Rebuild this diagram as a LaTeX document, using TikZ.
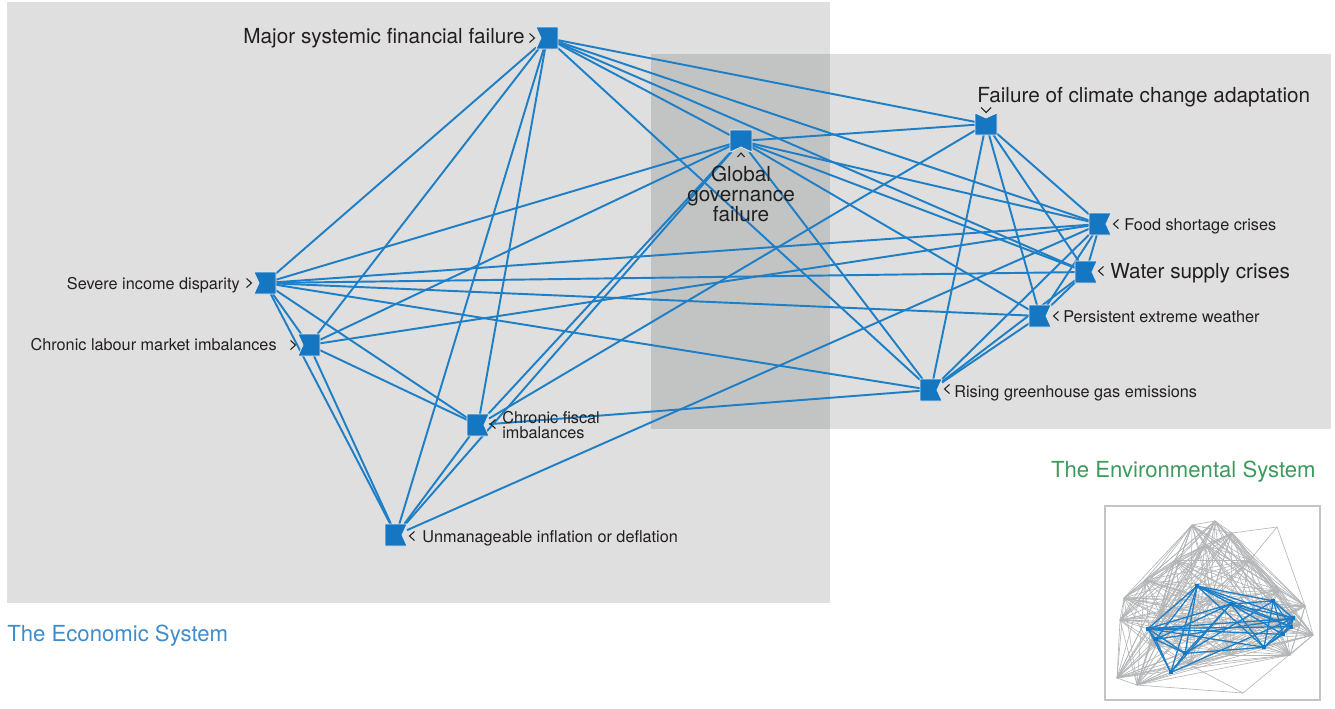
\documentclass[tikz,border=0pt]{standalone}
\usepackage{fontspec}
\setmainfont{TeX Gyre Heros}
\usetikzlibrary{calc}
\definecolor{nodeblue}{HTML}{1577C1}
\definecolor{edgeblue}{HTML}{1E7FC6}
\definecolor{bggray}{HTML}{DFDFDF}
\definecolor{ovgray}{HTML}{C2C3C3}
\definecolor{txt}{HTML}{231F20}
\definecolor{ecoblue}{HTML}{3F8CCB}
\definecolor{envgreen}{HTML}{3C9A5C}
\definecolor{insetgray}{HTML}{B3B5B6}
\newcommand\bigfnt{\fontsize{11.8}{11.6}\selectfont\lineskiplimit-10pt\relax}
\newcommand\smallfnt{\fontsize{9.25}{8.8}\selectfont\lineskiplimit-10pt\relax}
\newcommand\sysfnt{\fontsize{12.6}{14}\selectfont}
\newcommand\mapedges{msf/sid, msf/clm, msf/cfi, msf/uid, msf/ggf, msf/fcca, msf/fsc, msf/wsc, msf/rgg,
 sid/clm, sid/cfi, sid/uid, sid/ggf, sid/fsc, sid/wsc, sid/pew, sid/rgg,
 clm/cfi, clm/uid, clm/ggf, clm/fsc,
 cfi/uid, cfi/ggf, cfi/rgg, cfi/fcca,
 uid/ggf, uid/fsc,
 ggf/fcca, ggf/fsc, ggf/wsc, ggf/pew, ggf/rgg,
 fcca/fsc, fcca/wsc, fcca/pew, fcca/rgg,
 fsc/wsc, fsc/pew, fsc/rgg,
 wsc/pew, wsc/rgg,
 pew/rgg}
\newcommand\nodelist{msf/547/38, ggf/741/141, fcca/986/124, fsc/1100/224, wsc/1086/272, pew/1040/316, rgg/931/390, sid/265/283, clm/309/345, cfi/478/425, uid/396/535}
\newcommand\nR[1]{\path[sqfill] (#1.north west) -- (#1.north east) -- ($(#1.east)+(-5,0)$) -- (#1.south east) -- (#1.south west) -- cycle;}
\newcommand\nL[1]{\path[sqfill] (#1.north west) -- (#1.north east) -- (#1.south east) -- (#1.south west) -- ($(#1.west)+(5,0)$) -- cycle;}
\newcommand\nT[1]{\path[sqfill] (#1.north west) -- ($(#1.north)+(0,5)$) -- (#1.north east) -- (#1.south east) -- (#1.south west) -- cycle;}
\newcommand\nB[1]{\path[sqfill] (#1.north west) -- (#1.north east) -- (#1.south east) -- ($(#1.south)+(0,-5)$) -- (#1.south west) -- cycle;}
\newcommand\chR[2]{\draw[chev,shift={(#1,#2)}] (-2.5,-4.5) -- (2.5,0) -- (-2.5,4.5);}
\newcommand\chL[2]{\draw[chev,shift={(#1,#2)}] (2.5,-4.5) -- (-2.5,0) -- (2.5,4.5);}
\newcommand\chU[2]{\draw[chev,shift={(#1,#2)}] (-3.5,2) -- (0,-2) -- (3.5,2);}
\newcommand\chD[2]{\draw[chev,shift={(#1,#2)}] (-5,-2.5) -- (0,2.5) -- (5,-2.5);}
\begin{document}
\begin{tikzpicture}[x=0.02cm,y=-0.02cm,
  sq/.style={rectangle, minimum size=0.44cm, inner sep=0pt, outer sep=0pt},
  sqfill/.style={fill=nodeblue, draw=white!82!gray, line width=0.4pt},
  link/.style={draw=edgeblue, line width=1.1pt},
  ilink/.style={draw=edgeblue, line width=0.75pt},
  glink/.style={draw=insetgray, line width=0.35pt},
  chev/.style={draw=txt, line width=0.6pt},
  lbig/.style={font=\bigfnt, text=txt, inner sep=0pt},
  lsmall/.style={font=\smallfnt, text=txt, inner sep=0pt},
  syslabel/.style={font=\sysfnt, inner sep=0pt}]
\useasboundingbox (0,0) rectangle (1335,708);
% backgrounds
\fill[bggray] (7,2) rectangle (830,603);
\fill[bggray] (651,54) rectangle (1331,429);
\fill[ovgray] (651,54) rectangle (830,429);
% system labels
\node[syslabel, text=ecoblue, anchor=base west] (ecolabel) at (7,641) {The Economic System};
\node[syslabel, text=envgreen, anchor=base east] (envlabel) at (1316,477) {The Environmental System};
% inset
\draw[fill=white, draw=insetgray!80!white, line width=0.8pt] (1105,506) rectangle (1320,700);
\foreach \n/\x/\y in {1/1120/620, 2/1124/598, 3/1192/525, 4/1215/521, 5/1232/533, 6/1305/606, 7/1313/635, 8/1290/655, 9/1117/678, 10/1137/685, 11/1160/615, 12/1175/560, 13/1205/545, 14/1250/560, 15/1280/590, 16/1300/625, 17/1230/655, 18/1190/665, 19/1150/645, 20/1210/600, 21/1260/625, 22/1145/580, 23/1277/527, 24/1243/693}
  \coordinate (g\n) at (\x,\y);
\foreach \i in {1,...,22}{\foreach \j in {1,...,22}{\ifnum\i<\j\relax \draw[glink] (g\i) -- (g\j);\fi}}
\draw[glink] (g5) -- (g23) -- (g14) (g23) -- (g6) (g18) -- (g24) -- (g7) (g24) -- (g10);
\begin{scope}[shift={(1148,586)}, scale=0.174, shift={(-265,-38)}]
  \foreach \n/\x/\y in \nodelist \coordinate (i\n) at (\x,\y);
\end{scope}
\foreach \a/\b in \mapedges \draw[ilink] (i\a) -- (i\b);
\foreach \n/\x/\y in \nodelist \fill[nodeblue] ($(i\n)+(-2,-2)$) rectangle ($(i\n)+(2,2)$);
% main nodes
\foreach \n/\x/\y in \nodelist \node[sq] (\n) at (\x,\y) {};
\foreach \a/\b in \mapedges \draw[link] (\a) -- (\b);
\nL{msf} \nB{ggf} \nT{fcca} \nR{fsc} \nR{wsc} \nR{pew} \nR{rgg} \nL{sid} \nL{clm} \nR{cfi} \nR{uid}
% chevrons
\chR{532}{38} \chU{741}{155} \chD{986}{110} \chL{1116}{224} \chL{1101}{271} \chL{1056}{316} \chL{947}{389} \chR{249}{283} \chR{293}{345} \chL{493}{424} \chL{412}{536}
% labels
\node[lbig, anchor=base east] (msfl) at (525,43) {Major systemic financial failure};
\node[lbig, anchor=center, align=center] (ggfl) at (741,194) {Global\\governance\\failure};
\node[lbig, anchor=base west] (fccal) at (977,102) {Failure of climate change adaptation};
\node[lsmall, anchor=base west] (fscl) at (1124,230) {Food shortage crises};
\node[lbig, anchor=base west] (wscl) at (1110,278) {Water supply crises};
\node[lsmall, anchor=base west] (pewl) at (1063,322) {Persistent extreme weather};
\node[lsmall, anchor=base west] (rggl) at (954,397) {Rising greenhouse gas emissions};
\node[lsmall, anchor=base east] (sidl) at (240,289) {Severe income disparity};
\node[lsmall, anchor=base east] (clml) at (277,350) {Chronic labour market imbalances};
\node[lsmall, anchor=west, align=left] (cfil) at (502,425) {Chronic fiscal\\imbalances};
\node[lsmall, anchor=base west] (uidl) at (422,542) {Unmanageable inflation or deflation};
\end{tikzpicture}
\end{document}
